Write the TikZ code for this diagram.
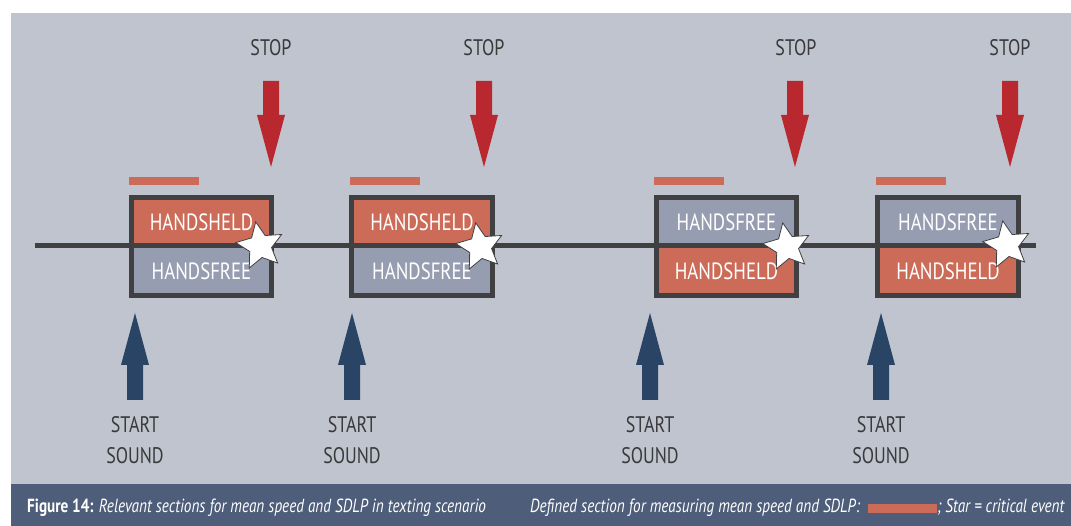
\documentclass[tikz,border=0pt]{standalone}
\usepackage{fontspec}
\setmainfont[FakeStretch=0.8]{PT Sans}
\usetikzlibrary{shapes.geometric}
\definecolor{panel}{HTML}{C0C4CF}
\definecolor{capbar}{HTML}{4E5D7A}
\definecolor{boxred}{HTML}{CC6B58}
\definecolor{boxgray}{HTML}{979DB1}
\definecolor{border}{HTML}{404043}
\definecolor{stopred}{HTML}{B8282E}
\definecolor{startblue}{HTML}{2A4466}
\definecolor{labeltext}{HTML}{3A3A3C}
\tikzset{
  half/.style={minimum width=140pt, minimum height=48.5pt, inner sep=0pt, text=white, font=\fontsize{23.5}{24}\selectfont},
  hred/.style={half, fill=boxred},
  hgray/.style={half, fill=boxgray},
  frame/.style={draw=border, line width=5pt},
  road/.style={draw=border, line width=5pt},
  secbar/.style={fill=boxred, minimum width=70pt, minimum height=8pt, inner sep=0pt},
  event/.style={star, star points=5, star point ratio=2.1, minimum size=49pt, inner sep=0pt, fill=white, draw=border, line width=0.8pt, rotate=10},
  lbl/.style={text=labeltext, font=\fontsize{22.5}{31}\selectfont, align=center, inner sep=0pt},
  captext/.style={text=white, font=\fontsize{19}{22}\selectfont, anchor=base west, inner sep=0pt},
  stoparrow/.pic={\fill[stopred] (-8,0) -- (8,0) -- (8,34) -- (14,34) -- (0,86) -- (-14,34) -- (-8,34) -- cycle;},
  startarrow/.pic={\fill[startblue] (-8,0) -- (8,0) -- (8,-35) -- (14,-35) -- (0,-87) -- (-14,-35) -- (-8,-35) -- cycle;}
}
\begin{document}
\begin{tikzpicture}[x=1pt,y=-1pt]
\useasboundingbox (0,0) rectangle (1071,526);
\fill[white] (0,0) rectangle (1071,526);
\fill[panel] (11,13) rectangle (1071,484);
\fill[capbar] (11,484) rectangle (1071,526);

% halves
\node[hred]  (t1) at (201.5,222.25) {HANDSHELD};
\node[hgray] (u1) at (201.5,271) {HANDSFREE};
\node[hred]  (t2) at (422,222.25) {HANDSHELD};
\node[hgray] (u2) at (422,271) {HANDSFREE};
\node[hgray] (t3) at (726.5,222.25) {HANDSFREE};
\node[hred]  (u3) at (726.5,271) {HANDSHELD};
\node[hgray] (t4) at (948,222.25) {HANDSFREE};
\node[hred]  (u4) at (948,271) {HANDSHELD};

% road line
\coordinate (rs) at (35,246);
\coordinate (re) at (1036,246);
\draw[road] (rs) -- (re);

% frames
\draw[frame] (t1.north west) rectangle (u1.south east);
\draw[frame] (t2.north west) rectangle (u2.south east);
\draw[frame] (t3.north west) rectangle (u3.south east);
\draw[frame] (t4.north west) rectangle (u4.south east);

% section bars
\node[secbar] (b1) at (164,181) {};
\node[secbar] (b2) at (385,181) {};
\node[secbar] (b3) at (689,181) {};
\node[secbar] (b4) at (911,181) {};

% stars
\node[event] (s1) at (260,246) {};
\node[event] (s2) at (480,247) {};
\node[event] (s3) at (787,247) {};
\node[event] (s4) at (1007,245) {};

% stop arrows
\pic at (271,81) {stoparrow};
\pic at (484,81) {stoparrow};
\pic at (795,81) {stoparrow};
\pic at (1010,81) {stoparrow};
\node[lbl] (p1) at (271,48) {STOP};
\node[lbl] (p2) at (484,48) {STOP};
\node[lbl] (p3) at (796,48) {STOP};
\node[lbl] (p4) at (1010,48) {STOP};

% start arrows
\pic at (135,400) {startarrow};
\pic at (352,400) {startarrow};
\pic at (650,400) {startarrow};
\pic at (881,400) {startarrow};
\node[lbl] (q1) at (135,440) {START\\SOUND};
\node[lbl] (q2) at (352,440) {START\\SOUND};
\node[lbl] (q3) at (650,440) {START\\SOUND};
\node[lbl] (q4) at (881,440) {START\\SOUND};

% caption
\node[captext] (c1) at (27,512) {\textbf{Figure 14:} \textit{Relevant sections for mean speed and SDLP in texting scenario}};
\node[captext] (c2) at (530,512) {\textit{Defined section for measuring mean speed and SDLP:}};
\node[fill=boxred, minimum width=69pt, minimum height=9pt, inner sep=0pt] (cb) at (902.5,508) {};
\node[captext] (c3) at (937,512) {\textit{; Star = critical event}};
\end{tikzpicture}
\end{document}
